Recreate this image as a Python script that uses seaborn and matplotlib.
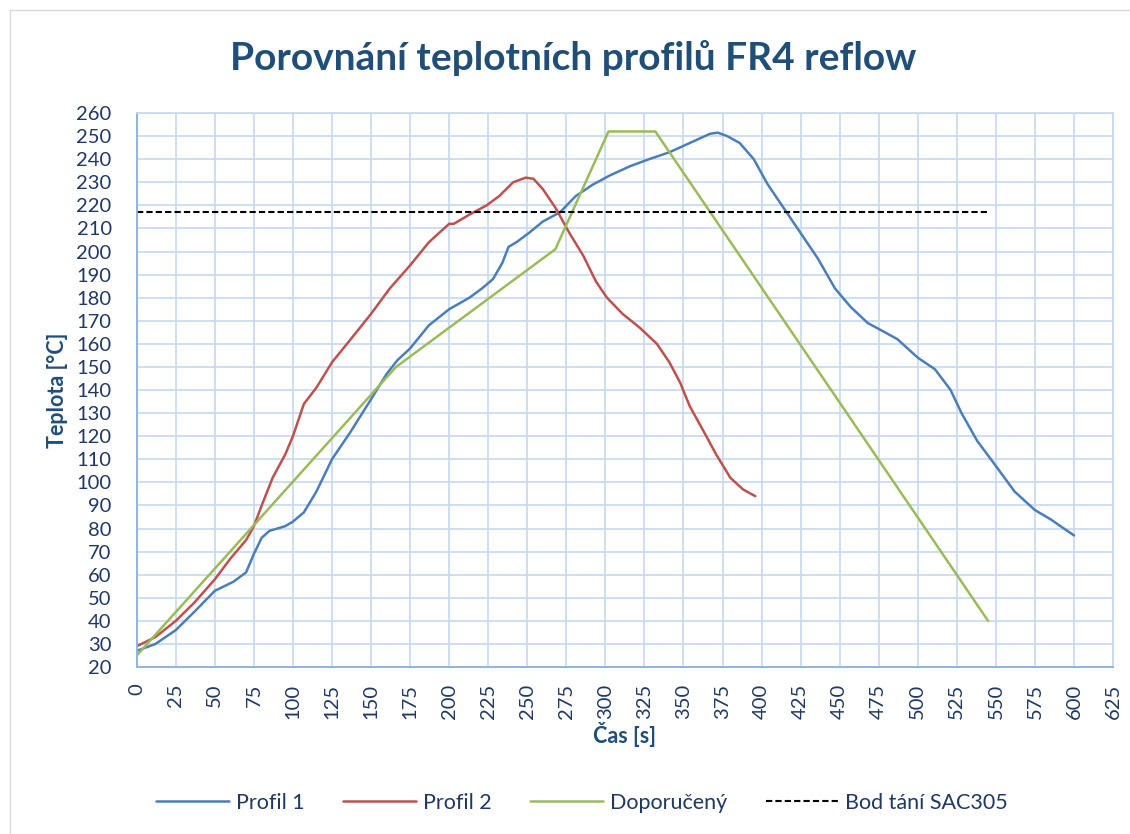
import matplotlib
matplotlib.use("Agg")
import matplotlib.pyplot as plt
import seaborn as sns
from matplotlib.patches import Rectangle

# Profil 1 (modrá)
t1 = [0, 12, 25, 37, 50, 62, 70, 75, 80, 85, 95, 100, 107, 115, 125, 137, 150, 160, 167, 175,
      187, 200, 213, 221, 228, 234, 238, 243, 251, 260, 271, 281, 292, 303, 316, 328, 341, 354,
      367, 372, 378, 386, 395, 404, 414, 425, 436, 447, 457, 468, 479, 487, 500, 511, 521, 528,
      538, 549, 562, 575, 585, 600]
y1 = [27, 30, 36, 44, 53, 57, 61, 69, 76, 79, 81, 83, 87, 96, 110, 122, 136, 147, 153, 158,
      168, 175, 180, 184, 188, 195, 202, 204, 208, 213, 217, 224, 229, 233, 237, 240, 243, 247,
      251, 251.5, 250, 247, 240, 229, 219, 208, 197, 184, 176, 169, 165, 162, 154, 149, 140, 130,
      118, 108, 96, 88, 84, 77]

# Profil 2 (červená)
t2 = [0, 12, 25, 37, 50, 60, 70, 75, 80, 87, 95, 100, 107, 115, 125, 137, 150, 162, 175, 187,
      200, 203, 213, 224, 232, 241, 249, 254, 260, 268, 277, 286, 294, 301, 311, 322, 333, 341,
      348, 354, 363, 371, 380, 388, 396]
y2 = [29, 33, 40, 48, 58, 67, 75, 81, 90, 102, 112, 120, 134, 141, 152, 162, 173, 184, 194, 204,
      212, 212, 216, 220, 224, 230, 232, 231.5, 227, 219, 208, 198, 187, 180, 173, 167, 160, 152,
      143, 133, 122, 112, 102, 97, 94]

# Doporučený profil
t3 = [0, 166, 268, 302, 332, 545]
y3 = [25, 150, 201, 252, 252, 40]

# Bod tání SAC305
t4 = [0, 545]
y4 = [217, 217]

title_color = "#1F4E79"
text_color = "#1F3864"

sns.set_theme(style="white")
plt.rcParams["font.family"] = ["Lato", "DejaVu Sans"]

fig, ax = plt.subplots(figsize=(11.3, 8.34), dpi=100)
fig.subplots_adjust(left=0.121, right=0.985, top=0.8645, bottom=0.2002)

sns.lineplot(x=t1, y=y1, ax=ax, color="#4A7EBB", linewidth=1.8, label="Profil 1")
sns.lineplot(x=t2, y=y2, ax=ax, color="#C0504D", linewidth=1.8, label="Profil 2")
sns.lineplot(x=t3, y=y3, ax=ax, color="#9BBB59", linewidth=1.8, label="Doporučený")
sns.lineplot(x=t4, y=y4, ax=ax, color="black", linewidth=1.5, linestyle=(0, (3, 1.5)),
             label="Bod tání SAC305")

ax.set_xlim(0, 625)
ax.set_ylim(20, 260)
ax.set_xticks(range(0, 626, 25))
ax.set_yticks(range(20, 261, 10))
ax.grid(True, color="#C6D9F1", linewidth=1.2)
ax.set_axisbelow(True)
for side in ["top", "right"]:
    ax.spines[side].set_color("#C6D9F1")
for side in ["left", "bottom"]:
    ax.spines[side].set_color("#8EB4E3")
    ax.spines[side].set_linewidth(1.4)
ax.tick_params(axis="x", labelrotation=90, labelsize=14.5, colors=text_color, length=0, pad=12)
ax.tick_params(axis="y", labelsize=14.5, colors=text_color, length=0, pad=18)

ax.set_xlabel("Čas [s]", fontsize=15.5, fontweight="bold", color=title_color, labelpad=2)
ax.set_ylabel("Teplota [°C]", fontsize=15.5, fontweight="bold", color=title_color, labelpad=6)
fig.suptitle("Porovnání teplotních profilů FR4 reflow", x=0.507, y=0.93, va="center",
             fontsize=28, fontweight="bold", color=title_color)

ax.legend(loc="center", bbox_to_anchor=(0.456, -0.245), ncol=4, frameon=False,
          fontsize=15.5, handlelength=3.4, columnspacing=1.8, handletextpad=0.3,
          labelcolor=text_color)

fig.patches.append(Rectangle((0.009, -0.01), 1.0, 0.998, transform=fig.transFigure,
                             fill=False, edgecolor="#D9D9D9", linewidth=1))

fig.savefig("out.png", dpi=100)
